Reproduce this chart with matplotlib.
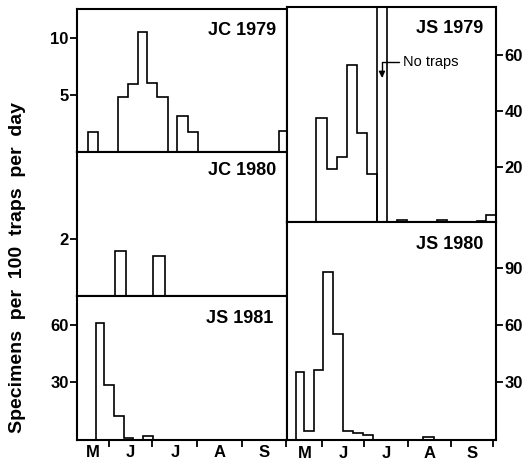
import matplotlib
matplotlib.use("Agg")
import matplotlib.pyplot as plt

plt.rcParams['font.family'] = ['Liberation Sans', 'DejaVu Sans']

# Days are counted from 1 May; values are specimens per 100 traps per day
month_starts = [31, 61, 92, 123, 153]
month_names = ['M', 'J', 'J', 'A', 'S']

jc79_edges = [16.6, 23.5, 37.3, 44.1, 51.0, 57.2, 64.1, 71.7, 77.9, 85.5, 92.4, 148.2, 153.7]
jc79_vals = [1.8, 0, 4.8, 6.0, 10.5, 6.05, 4.8, 0, 3.2, 1.8, 0, 1.88]

jc80_edges = [35.2, 42.8, 61.4, 69.6]
jc80_vals = [1.60, 0, 1.41]

js81_edges = [22.1, 27.6, 34.7, 41.4, 47.5, 54.5, 61.4]
js81_vals = [61.5, 28.5, 12.5, 0.6, 0, 2.0]

js79_edges = [26.7, 34.5, 41.7, 48.8, 55.9, 63.1, 70.2]
js79_vals = [37.3, 19.1, 23.6, 56.5, 32.2, 17.4]
js79_no_traps = (70.2, 77.3)
js79_late_edges = [84.5, 91.6, 113.0, 120.1, 141.5, 147.9, 155.1]
js79_late_vals = [0.9, 0, 0.9, 0, 0.6, 2.7]

js80_edges = [12.4, 18.1, 25.3, 31.7, 38.8, 45.9, 53.0, 60.2, 67.3, 103.0, 110.9]
js80_vals = [35.4, 4.9, 36.3, 87.6, 55.3, 4.8, 3.8, 2.7, 0, 1.5]

fig = plt.figure(figsize=(5.25, 4.61), dpi=100)

left_x, left_w = 77 / 525, 210 / 525
right_x, right_w = 287 / 525, 209 / 525
left_xlim = (9.0, 153.7)
right_xlim = (6.0, 155.1)


def make_axes(rect, xlim, ylim, yticks, side, label, label_pos, month_labels):
    ax = fig.add_axes(rect)
    ax.set_xlim(*xlim)
    ax.set_ylim(*ylim)
    for s in ax.spines.values():
        s.set_linewidth(1.5)
    ax.set_xticks(month_starts)
    ax.set_xticklabels([])
    ax.set_yticks(yticks)
    ax.set_yticklabels([str(t) for t in yticks], fontsize=12, fontweight='bold')
    if side == 'right':
        ax.yaxis.tick_right()
    ax.tick_params(axis='both', which='major', direction='out', length=5,
                   width=1.3, pad=1)
    if month_labels:
        bounds = [xlim[0]] + month_starts
        centers = [(a + b) / 2 for a, b in zip(bounds[:-1], bounds[1:])]
        ax.set_xticks(centers, minor=True)
        ax.set_xticklabels(month_names, minor=True, fontsize=12, fontweight='bold')
        ax.tick_params(axis='x', which='minor', length=0, pad=4)
    ax.text(label_pos[0], label_pos[1], label, transform=ax.transAxes,
            ha='right', va='top', fontsize=13, fontweight='bold')
    return ax


ax_jc79 = make_axes([left_x, 0.6696, left_w, 0.3108], left_xlim, (0, 12.5), [5, 10],
                    'left', 'JC 1979', (0.948, 0.91), False)
ax_jc80 = make_axes([left_x, 0.3579, left_w, 0.3117], left_xlim, (0, 5.07), [2],
                    'left', 'JC 1980', (0.948, 0.93), False)
ax_js81 = make_axes([left_x, 0.0466, left_w, 0.3113], left_xlim, (0, 75.5), [30, 60],
                    'left', 'JS 1981', (0.933, 0.90), True)
ax_js79 = make_axes([right_x, 0.5174, right_w, 0.4675], right_xlim, (0, 77.2), [20, 40, 60],
                    'right', 'JS 1979', (0.938, 0.94), False)
ax_js80 = make_axes([right_x, 0.0456, right_w, 0.4718], right_xlim, (0, 113.5), [30, 60, 90],
                    'right', 'JS 1980', (0.938, 0.936), True)

step_kw = dict(color='black', linewidth=1.2, baseline=0)
ax_jc79.stairs(jc79_vals, jc79_edges, **step_kw)
ax_jc80.stairs(jc80_vals, jc80_edges, **step_kw)
ax_js81.stairs(js81_vals, js81_edges, **step_kw)
ax_js79.stairs(js79_vals, js79_edges, **step_kw)
ax_js79.stairs(js79_late_vals, js79_late_edges, **step_kw)
ax_js80.stairs(js80_vals, js80_edges, **step_kw)

for d in js79_no_traps:
    ax_js79.axvline(d, color='black', linewidth=1.2)
ax_js79.annotate('No traps', xy=(sum(js79_no_traps) / 2, 51.8), xytext=(88.7, 57.5),
                 ha='left', va='center', fontsize=10.5,
                 arrowprops=dict(arrowstyle='-|>', color='black', linewidth=1.0,
                                 mutation_scale=9, shrinkA=1, shrinkB=0,
                                 connectionstyle='angle,angleA=0,angleB=90,rad=0'))

fig.text(18 / 525, 1 - 267 / 461, 'Specimens  per  100  traps  per  day',
         rotation=90, ha='center', va='center', fontsize=14, fontweight='bold')

fig.savefig('out.png', dpi=100)
